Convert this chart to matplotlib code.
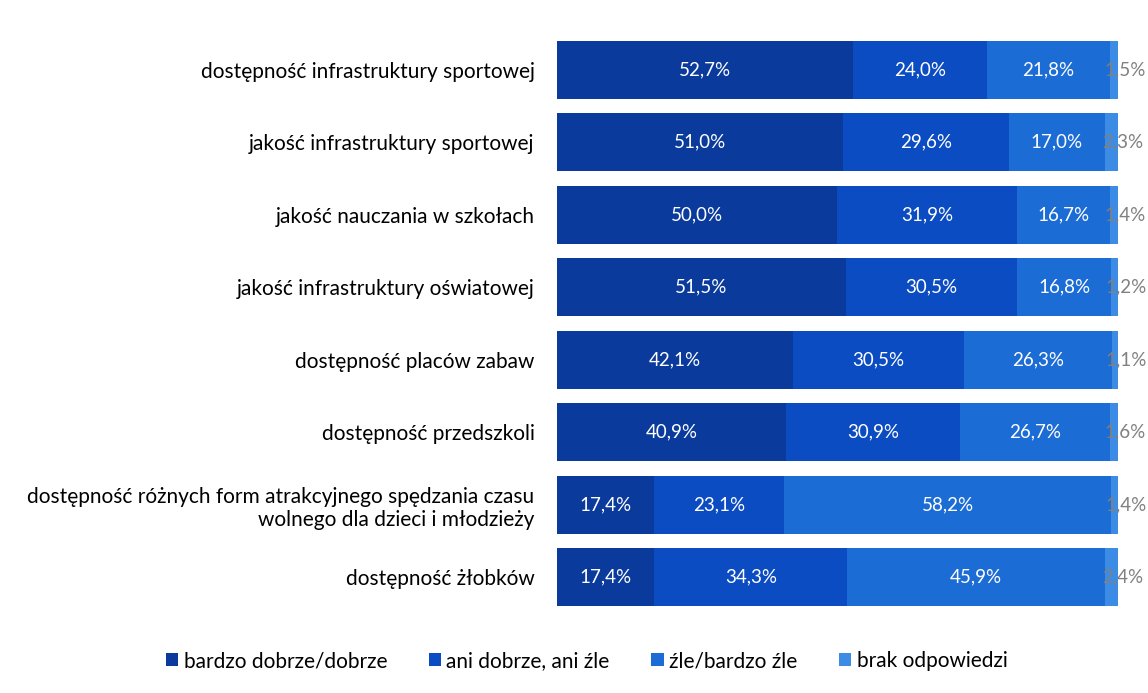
import matplotlib.pyplot as plt
import numpy as np

plt.rcParams['font.family'] = ['Lato', 'DejaVu Sans']

categories = [
    "dostępność infrastruktury sportowej",
    "jakość infrastruktury sportowej",
    "jakość nauczania w szkołach",
    "jakość infrastruktury oświatowej",
    "dostępność placów zabaw",
    "dostępność przedszkoli",
    "dostępność różnych form atrakcyjnego spędzania czasu\nwolnego dla dzieci i młodzieży",
    "dostępność żłobków",
]
series_names = ["bardzo dobrze/dobrze", "ani dobrze, ani źle", "źle/bardzo źle", "brak odpowiedzi"]
good = [52.7, 51.0, 50.0, 51.5, 42.1, 40.9, 17.4, 17.4]
neutral = [24.0, 29.6, 31.9, 30.5, 30.5, 30.9, 23.1, 34.3]
bad = [21.8, 17.0, 16.7, 16.8, 26.3, 26.7, 58.2, 45.9]
no_answer = [1.5, 2.3, 1.4, 1.2, 1.1, 1.6, 1.4, 2.4]

colors = ["#0a3b9c", "#0b4cc2", "#1c6cd5", "#3c8ce6"]
label_colors = ["white", "white", "white", "#808080"]

fig = plt.figure(figsize=(11.48, 6.93), dpi=100)
ax = fig.add_axes([0.485, 0.115, 0.489, 0.837])

y = np.arange(len(categories))
left = np.zeros(len(categories))
for i, vals in enumerate([good, neutral, bad, no_answer]):
    vals = np.array(vals)
    ax.barh(y, vals, left=left, height=0.8, color=colors[i], label=series_names[i])
    for j, v in enumerate(vals):
        xc = left[j] + v / 2
        if i == 3:
            xc = left[j] + v / 2 + 2.0
        ax.text(xc, y[j], f"{v:.1f}%".replace(".", ","), ha="center", va="center",
                color=label_colors[i], fontsize=13.5)
    left += vals

ax.set_xlim(0, 100)
ax.set_ylim(len(categories) - 0.5, -0.5)
ax.set_yticks(y)
ax.set_yticklabels(categories, fontsize=15, ha="right")
ax.tick_params(axis="y", length=0, pad=16)
ax.set_xticks([])
for s in ax.spines.values():
    s.set_visible(False)

fig.legend(loc="center", bbox_to_anchor=(0.511, 0.046), ncol=4, frameon=False,
           fontsize=15, handlelength=0.6, handleheight=0.6, handletextpad=0.25,
           columnspacing=2.0)

fig.savefig("out.png", dpi=100)
